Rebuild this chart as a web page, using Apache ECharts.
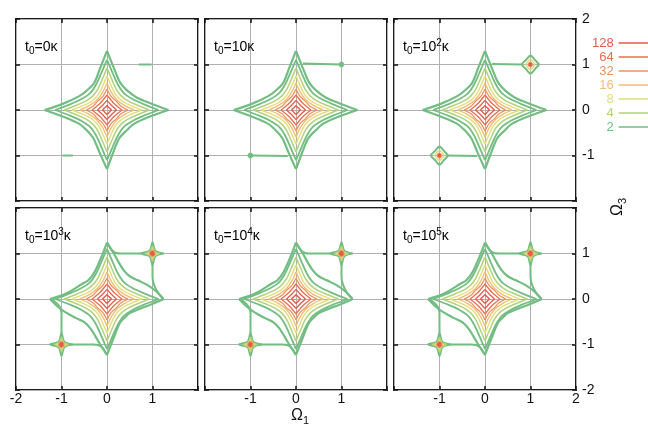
<!DOCTYPE html>
<html><head><meta charset="utf-8">
<script src="https://cdn.jsdelivr.net/npm/echarts@6/dist/echarts.min.js"></script>
<style>html,body{margin:0;padding:0;background:#fff}#c{width:648px;height:424px}</style>
</head><body><div id="c"></div><script>
// ---- legend levels ----
const levelNames = ['128','64','32','16','8','4','2'];
const levelColors = ['#e55a48','#ea6e50','#ef9160','#f2bd72','#e2de7c','#b3d27a','#72bd82'];

// ---- tick labels (value -2..2) ----
const xTickLabels = [['-2','-1','0','1',''], ['','-1','0','1',''], ['','-1','0','1','2']];
const yTickLabelsTop = ['', '-1', '0', '1', '2'];
const yTickLabelsBottom = ['-2', '-1', '0', '1', ''];

// ---- panel titles ----
const panelTitles = [
  '{t|t}{s|0}{t|=0κ}', '{t|t}{s|0}{t|=10κ}', '{t|t}{s|0}{t|=10}{p|2}{t|κ}',
  '{t|t}{s|0}{t|=10}{p|3}{t|κ}', '{t|t}{s|0}{t|=10}{p|4}{t|κ}', '{t|t}{s|0}{t|=10}{p|5}{t|κ}'
];

// ---- central contours (each: 4 arms, tip to tip) ----
const c1Early = [
  [[1.35,0],[0.95,0.15],[0.66,0.27],[0.44,0.43],[0.29,0.6],[0.18,0.85],[0,1.3]],
  [[0,1.3],[-0.15,0.92],[-0.28,0.6],[-0.43,0.44],[-0.6,0.31],[-0.96,0.14],[-1.37,0]],
  [[-1.37,0],[-0.96,-0.15],[-0.62,-0.3],[-0.44,-0.45],[-0.3,-0.62],[-0.17,-0.92],[0,-1.3]],
  [[0,-1.3],[0.13,-0.95],[0.27,-0.62],[0.44,-0.44],[0.6,-0.3],[0.93,-0.15],[1.35,0]]
];
const c1Late = [
  [[1.24,0],[1.08,0.17],[0.9,0.3],[0.68,0.41],[0.5,0.5],[0.37,0.63],[0.26,0.8],[0.15,1.0],[0,1.24]],
  [[0,1.24],[-0.12,0.93],[-0.27,0.6],[-0.41,0.41],[-0.53,0.34],[-0.9,0.12],[-1.25,0]],
  [[-1.25,0],[-1.08,-0.17],[-0.9,-0.3],[-0.68,-0.42],[-0.5,-0.51],[-0.37,-0.64],[-0.26,-0.81],[-0.15,-1.0],[0,-1.23]],
  [[0,-1.23],[0.13,-0.9],[0.28,-0.53],[0.4,-0.4],[0.5,-0.31],[0.94,-0.13],[1.25,0]]
];
const c2 = [
  [[1.13,0],[0.8,0.13],[0.56,0.24],[0.37,0.37],[0.24,0.56],[0.13,0.8],[0,1.1]],
  [[0,1.1],[-0.13,0.8],[-0.24,0.56],[-0.37,0.37],[-0.56,0.24],[-0.8,0.13],[-1.14,0]],
  [[-1.14,0],[-0.8,-0.13],[-0.56,-0.24],[-0.37,-0.37],[-0.24,-0.56],[-0.13,-0.8],[0,-1.1]],
  [[0,-1.1],[0.13,-0.8],[0.24,-0.56],[0.37,-0.37],[0.56,-0.24],[0.8,-0.13],[1.13,0]]
];
const c3 = [
  [[0.93,0],[0.66,0.11],[0.46,0.2],[0.31,0.31],[0.2,0.46],[0.11,0.66],[0,0.92]],
  [[0,0.92],[-0.11,0.66],[-0.2,0.46],[-0.31,0.31],[-0.46,0.2],[-0.66,0.11],[-0.94,0]],
  [[-0.94,0],[-0.66,-0.11],[-0.46,-0.2],[-0.31,-0.31],[-0.2,-0.46],[-0.11,-0.66],[0,-0.92]],
  [[0,-0.92],[0.11,-0.66],[0.2,-0.46],[0.31,-0.31],[0.46,-0.2],[0.66,-0.11],[0.93,0]]
];
const c4 = [
  [[0.76,0],[0.54,0.09],[0.37,0.17],[0.26,0.26],[0.17,0.37],[0.09,0.54],[0,0.75]],
  [[0,0.75],[-0.09,0.54],[-0.17,0.37],[-0.26,0.26],[-0.37,0.17],[-0.54,0.09],[-0.77,0]],
  [[-0.77,0],[-0.54,-0.09],[-0.37,-0.17],[-0.26,-0.26],[-0.17,-0.37],[-0.09,-0.54],[0,-0.75]],
  [[0,-0.75],[0.09,-0.54],[0.17,-0.37],[0.26,-0.26],[0.37,-0.17],[0.54,-0.09],[0.76,0]]
];
const c5 = [
  [[0.6,0],[0.4,0.09],[0.22,0.22],[0.09,0.4],[0,0.6]],
  [[0,0.6],[-0.09,0.4],[-0.22,0.22],[-0.4,0.09],[-0.6,0]],
  [[-0.6,0],[-0.4,-0.09],[-0.22,-0.22],[-0.09,-0.4],[0,-0.6]],
  [[0,-0.6],[0.09,-0.4],[0.22,-0.22],[0.4,-0.09],[0.6,0]]
];
const c6 = [
  [[0.46,0],[0.3,0.09],[0.2,0.2],[0.09,0.3],[0,0.46]],
  [[0,0.46],[-0.09,0.3],[-0.2,0.2],[-0.3,0.09],[-0.46,0]],
  [[-0.46,0],[-0.3,-0.09],[-0.2,-0.2],[-0.09,-0.3],[0,-0.46]],
  [[0,-0.46],[0.09,-0.3],[0.2,-0.2],[0.3,-0.09],[0.46,0]]
];
const c7 = [
  [[0.33,0],[0.15,0.15],[0,0.33]], [[0,0.33],[-0.15,0.15],[-0.33,0]],
  [[-0.33,0],[-0.15,-0.15],[0,-0.33]], [[0,-0.33],[0.15,-0.15],[0.33,0]]
];
const c8 = [
  [[0.21,0],[0.1,0.1],[0,0.21]], [[0,0.21],[-0.1,0.1],[-0.21,0]],
  [[-0.21,0],[-0.1,-0.1],[0,-0.21]], [[0,-0.21],[0.1,-0.1],[0.21,0]]
];
const c9 = [
  [[0.1,0],[0.048,0.048],[0,0.1]], [[0,0.1],[-0.048,0.048],[-0.1,0]],
  [[-0.1,0],[-0.048,-0.048],[0,-0.1]], [[0,-0.1],[0.048,-0.048],[0.1,0]]
];
const centralLevels = ['2','2','4','8','16','32','64','128','128'];
const centralWidths = [2.2,1.8,1.5,1.4,1.3,1.3,1.3,1.3,1.3];

// ---- bridges along Omega=±1 ----
const bridgesP1 = [[[0.7,1],[0.98,1]], [[-0.98,-1],[-0.75,-1]]];
const bridgesP2 = [[[0.15,1.02],[0.97,1]], [[-0.97,-1],[-0.18,-1.01]]];
const bridgesP3 = [[[0.15,1.01],[0.82,1]], [[-0.82,-1],[-0.18,-1.01]]];
const bridgesLate = [
  [[0,1.24],[0.1,1.08],[0.2,1.01],[0.3,1.0],[0.78,1.0]],
  [[1,0.78],[1,0.5],[1.03,0.32],[1.12,0.14],[1.24,0]],
  [[0,-1.23],[-0.1,-1.07],[-0.2,-1.01],[-0.3,-1.0],[-0.78,-1.0]],
  [[-1,-0.78],[-1,-0.3],[-1.04,-0.17],[-1.13,-0.07],[-1.25,0]]
];

// ---- side peaks at (1,1) and (-1,-1) ----
const peaksP2 = [
  {lv:'2', w:2.5, pts:[[1.04,1],[1,1.04],[0.96,1],[1,0.96],[1.04,1]]},
  {lv:'2', w:2.5, pts:[[-0.96,-1],[-1,-0.96],[-1.04,-1],[-1,-1.04],[-0.96,-1]]}
];
const peaksP3 = [
  {lv:'2', w:2, pts:[[1.19,1],[1.1,1.1],[1,1.2],[0.9,1.1],[0.81,1],[0.9,0.9],[1,0.8],[1.1,0.9],[1.19,1]]},
  {lv:'8', w:1.5, pts:[[1.1,1],[1,1.11],[0.9,1],[1,0.89],[1.1,1]]},
  {lv:'32', w:1.5, pts:[[1.05,1],[1,1.05],[0.95,1],[1,0.95],[1.05,1]]},
  {lv:'128', w:2, pts:[[1.02,1],[1,1.02],[0.98,1],[1,0.98],[1.02,1]]},
  {lv:'2', w:2, pts:[[-0.81,-1],[-0.9,-0.9],[-1,-0.8],[-1.1,-0.9],[-1.19,-1],[-1.1,-1.1],[-1,-1.2],[-0.9,-1.1],[-0.81,-1]]},
  {lv:'8', w:1.5, pts:[[-0.9,-1],[-1,-0.89],[-1.1,-1],[-1,-1.11],[-0.9,-1]]},
  {lv:'32', w:1.5, pts:[[-0.95,-1],[-1,-0.95],[-1.05,-1],[-1,-1.05],[-0.95,-1]]},
  {lv:'128', w:2, pts:[[-0.98,-1],[-1,-0.98],[-1.02,-1],[-1,-1.02],[-0.98,-1]]}
];
const peaksLate = [
  {lv:'2', w:2, pts:[[1.25,1],[1.06,1.06],[1,1.25],[0.94,1.06],[0.75,1],[0.94,0.94],[1,0.75],[1.06,0.94],[1.25,1]]},
  {lv:'4', w:1.6, pts:[[1.16,1],[1.045,1.045],[1,1.16],[0.955,1.045],[0.84,1],[0.955,0.955],[1,0.84],[1.045,0.955],[1.16,1]]},
  {lv:'8', w:1.6, pts:[[1.1,1],[1.035,1.035],[1,1.1],[0.965,1.035],[0.9,1],[0.965,0.965],[1,0.9],[1.035,0.965],[1.1,1]]},
  {lv:'32', w:1.8, pts:[[1.06,1],[1,1.06],[0.94,1],[1,0.94],[1.06,1]]},
  {lv:'128', w:2.2, pts:[[1.03,1],[1,1.03],[0.97,1],[1,0.97],[1.03,1]]},
  {lv:'2', w:2, pts:[[-0.75,-1],[-0.94,-0.94],[-1,-0.75],[-1.06,-0.94],[-1.25,-1],[-1.06,-1.06],[-1,-1.25],[-0.94,-1.06],[-0.75,-1]]},
  {lv:'4', w:1.6, pts:[[-0.84,-1],[-0.955,-0.955],[-1,-0.84],[-1.045,-0.955],[-1.16,-1],[-1.045,-1.045],[-1,-1.16],[-0.955,-1.045],[-0.84,-1]]},
  {lv:'8', w:1.6, pts:[[-0.9,-1],[-0.965,-0.965],[-1,-0.9],[-1.035,-0.965],[-1.1,-1],[-1.035,-1.035],[-1,-1.1],[-0.965,-1.035],[-0.9,-1]]},
  {lv:'32', w:1.8, pts:[[-0.94,-1],[-1,-0.94],[-1.06,-1],[-1,-1.06],[-0.94,-1]]},
  {lv:'128', w:2.2, pts:[[-0.97,-1],[-1,-0.97],[-1.03,-1],[-1,-1.03],[-0.97,-1]]}
];

// ---- panel composition ----
const panelOuter = [c1Early, c1Early, c1Early, c1Late, c1Late, c1Late];
const panelBridges = [bridgesP1, bridgesP2, bridgesP3, bridgesLate, bridgesLate, bridgesLate];
const panelPeaks = [[], peaksP2, peaksP3, peaksLate, peaksLate, peaksLate];

// ---- layout ----
const colLeft = [16, 205, 394];
const rowTop = [19, 208];
const PW = 182, PH = 182;
const FONT = 'Liberation Sans, Arial, Helvetica, sans-serif';

const colorOf = {};
levelNames.forEach((n, i) => colorOf[n] = levelColors[i]);

const grids = [], xAxes = [], yAxes = [], series = [], graphics = [];
for (let p = 0; p < 6; p++) {
  const col = p % 3, row = Math.floor(p / 3);
  grids.push({left: colLeft[col], top: rowTop[row], width: PW, height: PH,
    show: true, borderColor: '#1c1c1c', borderWidth: 2, backgroundColor: '#fff'});
  const tick = {show: true, inside: true, length: 4, lineStyle: {color: '#111', width: 1.5}};
  const lab = (arr, extra) => arr ? Object.assign({show: true, fontSize: 14, color: '#111', fontFamily: FONT,
      showMinLabel: true, showMaxLabel: true, formatter: v => arr[Math.round(v) + 2]}, extra) : {show: false};
  const base = {type: 'value', gridIndex: p, min: -2, max: 2, interval: 1,
    axisLine: {show: false, onZero: false}, axisTick: tick};
  xAxes.push(Object.assign({}, base, {position: 'bottom',
    splitLine: {show: true, lineStyle: {color: '#b0b0b0', width: 1}},
    axisLabel: lab(row === 1 ? xTickLabels[col] : null, {margin: 2})}));
  xAxes.push(Object.assign({}, base, {position: 'top', splitLine: {show: false}, axisLabel: {show: false}}));
  yAxes.push(Object.assign({}, base, {position: 'left',
    splitLine: {show: true, lineStyle: {color: '#b0b0b0', width: 1}}, axisLabel: {show: false}}));
  yAxes.push(Object.assign({}, base, {position: 'right', splitLine: {show: false},
    axisLabel: lab(col === 2 ? (row === 0 ? yTickLabelsTop : yTickLabelsBottom) : null, {margin: 6, align: 'left'})}));

  const addLine = (pts, lv, w, smooth, z) => series.push({
    type: 'line', name: lv, xAxisIndex: 2 * p, yAxisIndex: 2 * p, data: pts,
    showSymbol: false, symbol: 'none', smooth: smooth, silent: true, animation: false, z: z,
    color: colorOf[lv], itemStyle: {color: colorOf[lv]},
    lineStyle: {color: colorOf[lv], width: w}, emphasis: {disabled: true}
  });
  const central = [panelOuter[p], c2, c3, c4, c5, c6, c7, c8, c9];
  central.forEach((cont, k) => cont.forEach(arm => addLine(arm, centralLevels[k], centralWidths[k], 0.3, 3 + k)));
  panelBridges[p].forEach(b => addLine(b, '2', 2, 0.3, 3));
  panelPeaks[p].forEach((pk, k) => addLine(pk.pts, pk.lv, pk.w, 0.3, 4 + k % 5));

  graphics.push({type: 'text', x: colLeft[col] + 9, y: rowTop[row] + 19, z: 100,
    style: {text: panelTitles[p], fill: '#000', font: '14px ' + FONT,
      rich: {t: {fontSize: 14, lineHeight: 18, fill: '#000', fontFamily: FONT},
             s: {fontSize: 10, lineHeight: 10, verticalAlign: 'bottom', fill: '#000', fontFamily: FONT},
             p: {fontSize: 10, lineHeight: 10, verticalAlign: 'top', fill: '#000', fontFamily: FONT}}}});
}

graphics.push({type: 'text', x: 300, y: 416, z: 100,
  style: {text: '{a|Ω}{s|1}', align: 'center', verticalAlign: 'middle', textAlign: 'center', textVerticalAlign: 'middle',
    rich: {a: {fontSize: 16, lineHeight: 20, fill: '#111', fontFamily: FONT},
           s: {fontSize: 11, lineHeight: 12, verticalAlign: 'bottom', fill: '#111', fontFamily: FONT}}}});
graphics.push({type: 'text', x: 618, y: 207, rotation: Math.PI / 2, z: 100,
  style: {text: '{a|Ω}{s|3}', align: 'center', verticalAlign: 'middle', textAlign: 'center', textVerticalAlign: 'middle',
    rich: {a: {fontSize: 16, lineHeight: 20, fill: '#111', fontFamily: FONT},
           s: {fontSize: 11, lineHeight: 12, verticalAlign: 'bottom', fill: '#111', fontFamily: FONT}}}});

const chart = echarts.init(document.getElementById('c'), null, {renderer: 'canvas'});
chart.setOption({
  animation: false,
  backgroundColor: '#fff',
  grid: grids, xAxis: xAxes, yAxis: yAxes, series: series, graphic: graphics,
  legend: {orient: 'vertical', align: 'right', left: 592, top: 36, padding: 0, itemGap: 0,
    itemWidth: 30, itemHeight: 1.5, icon: 'rect', selectedMode: false,
    textStyle: {fontSize: 13, lineHeight: 14, fontFamily: FONT},
    data: levelNames.map((n, i) => ({name: n, textStyle: {color: levelColors[i]}}))}
});
</script></body></html>
